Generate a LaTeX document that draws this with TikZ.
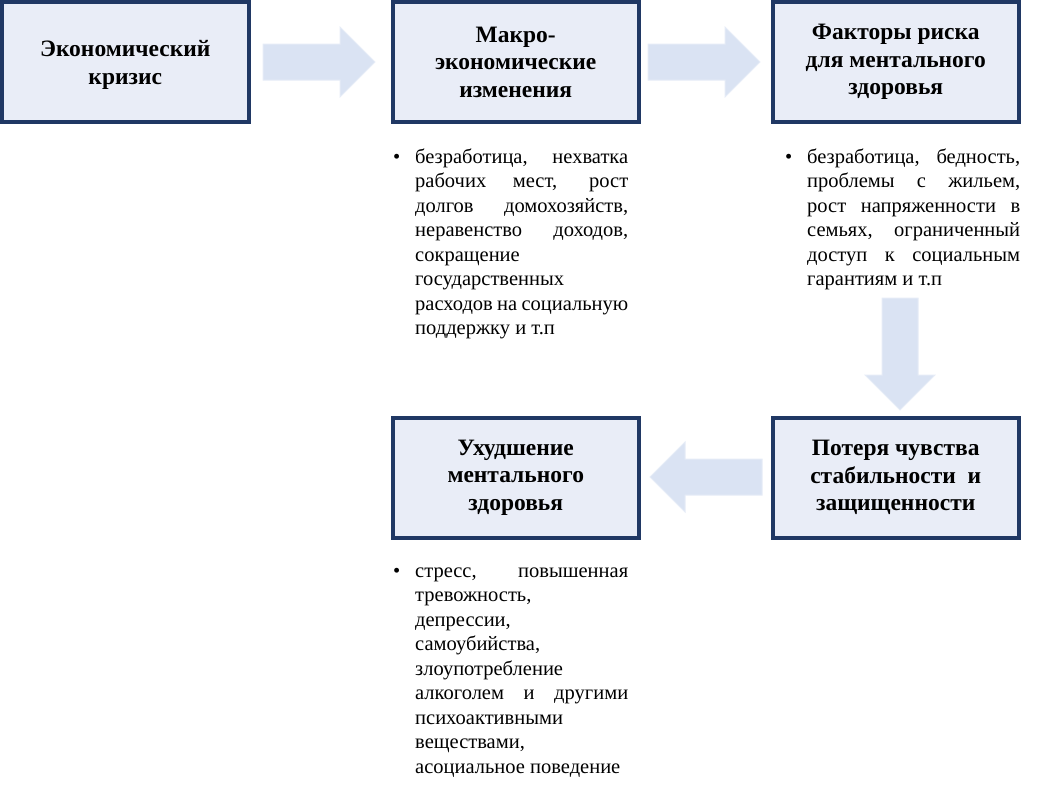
\documentclass[tikz,border=0pt]{standalone}
\usepackage{fontspec}
\setmainfont{Liberation Serif}
\definecolor{boxborder}{HTML}{203864}
\definecolor{boxfill}{HTML}{E9EDF7}
\definecolor{arrowfill}{HTML}{DAE3F3}
\definecolor{arrowline}{HTML}{E6ECF7}
\tikzset{
  titlebox/.style={draw=boxborder, line width=4pt, fill=boxfill, rectangle,
    minimum width=246.5pt, minimum height=120pt, inner sep=0pt, align=center,
    font=\bfseries\fontsize{23.5}{27.5}\selectfont},
  listtext/.style={anchor=north west, inner sep=0pt, text width=235pt, align=justify,
    font=\fontsize{20.5}{24.5}\selectfont},
  blockarrow/.style={fill=arrowfill, draw=arrowline, line width=1pt, line join=miter}
}
\newcommand\bul{\hangindent=22pt\hangafter=1\noindent\makebox[22pt][l]{\strut•}}
\begin{document}
\begin{tikzpicture}[x=1pt,y=-1pt]
\useasboundingbox (0,0) rectangle (1050,785);
% boxes
\node[titlebox] (k1) at (125.25,62) {\rule{0pt}{22pt}Экономический\\кризис};
\node[titlebox] (k2) at (515.75,62) {Макро-\\экономические\\изменения};
\node[titlebox] (k3) at (895.75,62) {Факторы риска\\для ментального\\здоровья};
\node[titlebox] (k4) at (895.75,477.5) {Потеря чувства\\стабильности\ \ и\\защищенности};
\node[titlebox] (k5) at (515.75,477.5) {Ухудшение\\ментального\\здоровья};
% block arrows
\draw[blockarrow] (263,44) -- (340,44) -- (340,27) -- (375,62) -- (340,97) -- (340,80) -- (263,80) -- cycle;
\draw[blockarrow] (648,44) -- (725,44) -- (725,27) -- (760,62) -- (725,97) -- (725,80) -- (648,80) -- cycle;
\draw[blockarrow] (882,298) -- (918,298) -- (918,375) -- (935,375) -- (900,410) -- (865,375) -- (882,375) -- cycle;
\draw[blockarrow] (762,459) -- (685,459) -- (685,442) -- (650,477) -- (685,512) -- (685,495) -- (762,495) -- cycle;
% lists
\node[listtext] (l2) at (393,146) {\bul безработица, нехватка\linebreak рабочих мест, рост\linebreak долгов домохозяйств,\linebreak неравенство доходов,\linebreak сокращение\newline государственных\newline расходов на социальную\linebreak поддержку и т.п\par};
\node[listtext] (l3) at (785,146) {\bul безработица, бедность,\linebreak проблемы с жильем,\linebreak рост напряженности в\linebreak семьях, ограниченный\linebreak доступ к социальным\linebreak гарантиям и т.п\par};
\node[listtext] (l5) at (393,560) {\bul стресс, повышенная\linebreak тревожность,\newline депрессии,\newline самоубийства,\newline злоупотребление\newline алкоголем и другими\linebreak психоактивными\newline веществами,\newline асоциальное поведение\par};
\end{tikzpicture}
\end{document}
